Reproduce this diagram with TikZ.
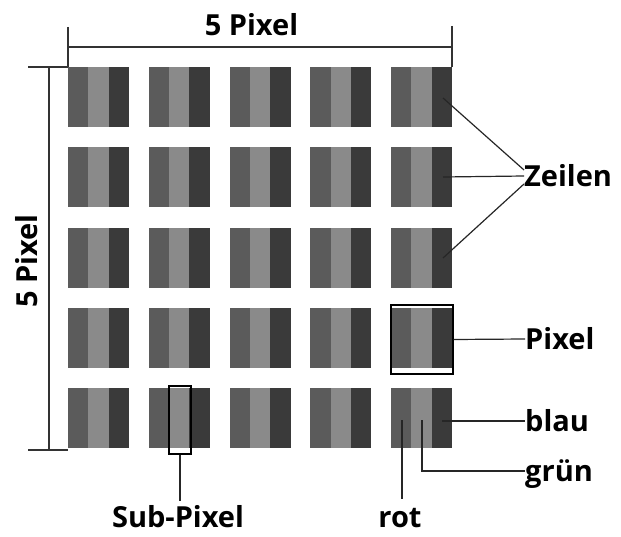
\documentclass[tikz,border=0pt]{standalone}
\usepackage{fontspec}
\setmainfont{Open Sans}
\usetikzlibrary{positioning}
\definecolor{subrot}{HTML}{5B5B5B}
\definecolor{subgruen}{HTML}{8A8A8A}
\definecolor{subblau}{HTML}{3A3A3A}
\tikzset{lbl/.style={font=\bfseries\fontsize{29}{32}\selectfont,inner sep=0pt,text height=20.7pt,text depth=0pt},
  mass/.style={line width=1.3pt,black!80},
  zeiger/.style={line width=1.2pt,black!85},
  rahmen/.style={draw,line width=1.3pt,inner sep=0pt}}

\begin{document}
\begin{tikzpicture}[x=1pt,y=-1pt]
\useasboundingbox (0,0) rectangle (621,537);

    % pixel grid
    \foreach \i in {0,...,4}
      \foreach \j in {0,...,4}{
        \fill[subrot]   (68+80.75*\i, 67+80.3*\j) rectangle ++(20.4,60);
        \fill[subgruen] (88.4+80.75*\i, 67+80.3*\j) rectangle ++(20.3,60);
        \fill[subblau]  (108.7+80.75*\i, 67+80.3*\j) rectangle ++(20.3,60);
      }

    % dimensions
    \draw[mass] (68,27)--(68,67);
    \draw[mass] (452,26)--(452,67);
    \draw[mass] (68,47)--(452,47);
    \draw[mass] (28,67)--(68,67);
    \draw[mass] (28,450)--(68,450);
    \draw[mass] (49,67)--(49,450);
    \node[lbl,anchor=base] at (251.5,36) (breite) {5 Pixel};
    \node[lbl,anchor=base,rotate=90] at (37,261) (hoehe) {5 Pixel};

    % labels
    \coordinate (z1) at (443,98);
    \coordinate (z2) at (443,177);
    \coordinate (z3) at (443,258);
    \node[lbl,anchor=west] at (524,176) (zeilen) {Zeilen};
    \draw[zeiger] (z1)--([yshift=6pt]zeilen.west);
    \draw[zeiger] (z2)--(zeilen.west);
    \draw[zeiger] (z3)--([yshift=-8pt]zeilen.west);

    \node[rahmen,minimum width=62,minimum height=69] at (422,339.5) (pix) {};
    \node[lbl,anchor=west] at (525,339) (pixel) {Pixel};
    \draw[zeiger] (pix.east)--(pixel.west);

    \coordinate (b) at (442,421);
    \coordinate (g) at (422,420);
    \coordinate (r) at (402,420);
    \node[lbl,anchor=west] at (525,421) (blau) {blau};
    \node[lbl,anchor=west] at (525,471) (gruen) {grün};
    \node[lbl,anchor=base,outer sep=7pt] at (400,527) (rot) {rot};
    \draw[zeiger] (b)--(blau.west);
    \draw[zeiger] (g)|-(gruen.west);
    \draw[zeiger] (r)--(r |- rot.north);

    \node[rahmen,minimum width=22,minimum height=68] at (180,420) (sub) {};
    \node[lbl,anchor=base,outer sep=5pt] at (178,527) (subpixel) {Sub-Pixel};
    \draw[zeiger] (sub.south)--(sub.south |- subpixel.north);
\end{tikzpicture}
\end{document}
